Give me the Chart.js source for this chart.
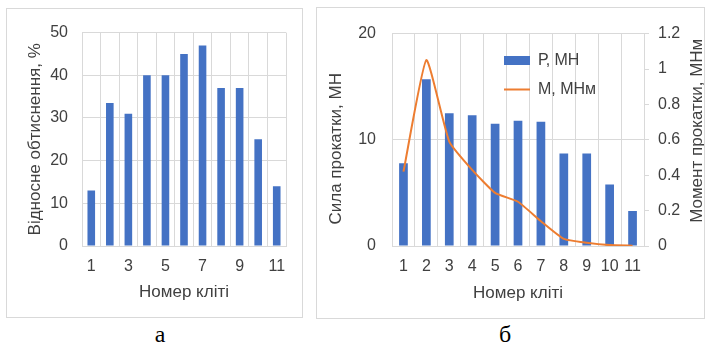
<!DOCTYPE html>
<html>
<head>
<meta charset="utf-8">
<script src="https://cdn.jsdelivr.net/npm/chart.js@4.4.1/dist/chart.umd.min.js"></script>
<style>
  body { margin: 0; width: 705px; height: 343px; background: #fff; position: relative; overflow: hidden; }
  .box { position: absolute; box-sizing: border-box; border: 1px solid #d9d9d9; background: #fff; }
  .box canvas { display: block; }
  .cap { position: absolute; top: 322px; width: 40px; text-align: center; font: 24px/24px "Liberation Serif", "Times New Roman", serif; color: #000; }
</style>
</head>
<body>
<div class="box" style="left:6px;top:8px;width:297px;height:310px"><canvas id="chartA" width="295" height="308"></canvas></div>
<div class="box" style="left:316px;top:7px;width:389px;height:312px"><canvas id="chartB" width="387" height="310"></canvas></div>
<div class="cap" style="left:140px">а</div>
<div class="cap" style="left:485px">б</div>
<script>
// Data
const stands = ['1', '2', '3', '4', '5', '6', '7', '8', '9', '10', '11'];
const reduction = [13, 33.5, 31, 40, 40, 45, 47, 37, 37, 25, 14];      // %, chart а
const force = [7.8, 15.7, 12.5, 12.3, 11.5, 11.8, 11.7, 8.7, 8.7, 5.8, 3.3]; // P, MH
const moment = [0.42, 1.05, 0.59, 0.43, 0.3, 0.25, 0.14, 0.04, 0.018, 0.005, 0.002]; // M, MHм

const FONT = '"Liberation Sans", Arial, sans-serif';
const TEXT = '#404040';
const GRID = '#d9d9d9';
const BLUE = '#4472C4';
const ORANGE = '#ED7D31';
const TICK_SIZE = 16;
const TITLE_SIZE = 17;

Chart.defaults.font.family = FONT;
Chart.defaults.color = TEXT;

// Put the legend inside the plot, at an offset from the chart area corner
const legendSpot = {
    id: 'legendSpot',
    afterLayout(chart, args, opts) {
        const lg = chart.legend;
        const area = chart.chartArea;
        if (!lg) return;
        lg.left = area.left + opts.dx;
        lg.top = area.top + opts.dy;
        lg.right = lg.left + lg.width;
        lg.bottom = lg.top + lg.height;
    }
};

// Vertical axis titles reading bottom-to-top on both sides
const sideTitles = {
    id: 'sideTitles',
    afterDraw(chart, args, opts) {
        const { ctx, chartArea } = chart;
        const mid = (chartArea.top + chartArea.bottom) / 2;
        ctx.save();
        ctx.font = TITLE_SIZE + 'px ' + FONT;
        ctx.fillStyle = TEXT;
        ctx.textAlign = 'center';
        ctx.textBaseline = 'middle';
        opts.items.forEach(t => {
            const sc = chart.scales[t.axis];
            const x = t.side === 'left' ? sc.left + t.inset : sc.right - t.inset;
            ctx.save();
            ctx.translate(x, mid + t.dy);
            ctx.rotate(-Math.PI / 2);
            ctx.fillText(t.text, 0, 0);
            ctx.restore();
        });
        ctx.restore();
    }
};

// Chart а
new Chart(document.getElementById('chartA'), {
    type: 'bar',
    data: {
        labels: stands,
        datasets: [{
            label: 'Відносне обтиснення, %',
            data: reduction,
            backgroundColor: BLUE,
            barPercentage: 0.41,
            categoryPercentage: 1
        }]
    },
    options: {
        responsive: false,
        devicePixelRatio: 1,
        animation: false,
        layout: { padding: { left: 0, top: 15, right: 16, bottom: 0 } },
        plugins: { legend: { display: false }, tooltip: { enabled: false } },
        scales: {
            x: {
                grid: { color: GRID, drawTicks: false },
                border: { color: GRID },
                ticks: {
                    autoSkip: false, maxRotation: 0, padding: 11.4, font: { size: TICK_SIZE },
                    callback: (v, i) => (i % 2 === 0 ? stands[i] : '')
                },
                title: { display: true, text: 'Номер кліті', font: { size: TITLE_SIZE }, padding: { top: 0, bottom: 14.3 } },
                afterFit: s => { s.height = 71; }
            },
            y: {
                min: 0,
                max: 50,
                ticks: { stepSize: 10, padding: 14, font: { size: TICK_SIZE } },
                grid: { color: GRID, drawTicks: false },
                border: { color: GRID },
                title: { display: true, text: 'Відносне обтиснення, %', font: { size: TITLE_SIZE }, padding: { top: 17.8, bottom: 0 } },
                afterFit: s => { s.width = 75; }
            }
        }
    }
});

// Chart б
new Chart(document.getElementById('chartB'), {
    type: 'bar',
    data: {
        labels: stands,
        datasets: [
            {
                type: 'bar',
                label: 'Р, МН',
                data: force,
                backgroundColor: BLUE,
                barPercentage: 0.38,
                categoryPercentage: 1,
                yAxisID: 'y',
                order: 1,
                pointStyle: 'rect'
            },
            {
                type: 'line',
                label: 'М, МНм',
                data: moment,
                borderColor: ORANGE,
                backgroundColor: ORANGE,
                borderWidth: 2,
                pointRadius: 0,
                tension: 0.15,
                yAxisID: 'y1',
                order: 0,
                pointStyle: 'line'
            }
        ]
    },
    options: {
        responsive: false,
        devicePixelRatio: 1,
        animation: false,
        layout: { padding: { left: 0, top: 18, right: 0, bottom: 0 } },
        plugins: {
            legend: {
                position: 'chartArea',
                align: 'start',
                labels: {
                    usePointStyle: true,
                    pointStyleWidth: 26,
                    boxHeight: 9,
                    padding: 13,
                    color: TEXT,
                    font: { size: TICK_SIZE },
                    sort: (a, b) => a.datasetIndex - b.datasetIndex
                }
            },
            tooltip: { enabled: false },
            legendSpot: { dx: 99, dy: 6 },
            sideTitles: {
                items: [
                    { axis: 'y', side: 'left', inset: 19, dy: 9, text: 'Сила прокатки, МН' },
                    { axis: 'y1', side: 'right', inset: 6.5, dy: -9, text: 'Момент прокатки, МНм' }
                ]
            }
        },
        scales: {
            x: {
                grid: { color: GRID, drawTicks: false },
                border: { color: GRID },
                ticks: { autoSkip: false, maxRotation: 0, padding: 11.4, font: { size: TICK_SIZE } },
                title: { display: true, text: 'Номер кліті', font: { size: TITLE_SIZE }, padding: { top: 0, bottom: 14.8 } },
                afterFit: s => { s.height = 72; }
            },
            y: {
                position: 'left',
                min: 0,
                max: 20,
                ticks: { stepSize: 10, padding: 16, font: { size: TICK_SIZE } },
                grid: { color: GRID, drawTicks: false },
                border: { color: GRID },
                afterFit: s => { s.width = 75; }
            },
            y1: {
                position: 'right',
                min: 0,
                max: 1.2,
                ticks: {
                    stepSize: 0.2, padding: 9, font: { size: TICK_SIZE },
                    callback: v => String(Number(v.toFixed(1)))
                },
                grid: { drawOnChartArea: false, color: GRID, tickLength: 5 },
                border: { color: GRID },
                afterFit: s => { s.width = 60; }
            }
        }
    },
    plugins: [legendSpot, sideTitles]
});
</script>
</body>
</html>
